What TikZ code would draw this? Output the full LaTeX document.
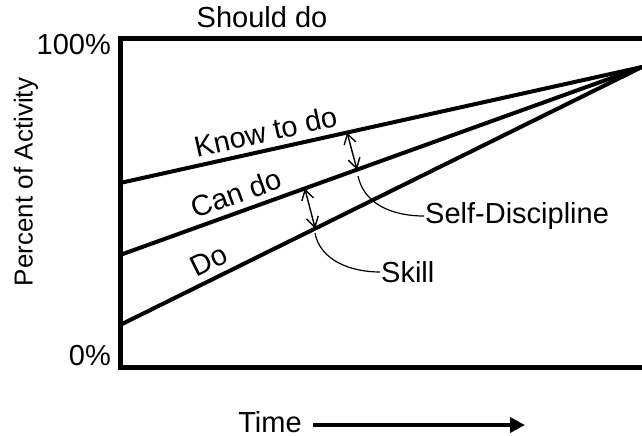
\documentclass[tikz,border=0pt]{standalone}
\usepackage{fontspec}
\setmainfont{Liberation Sans}
\usetikzlibrary{arrows.meta}

\tikzset{
	trend/.style={line width=4pt, black},
	gap/.style={line width=1.4pt, {Straight Barb[length=10pt,width=12pt]}-{Straight Barb[length=10pt,width=12pt]}},
	callout/.style={line width=1.2pt},
	lbl/.style={font=\fontsize{29}{32}\selectfont, inner sep=1pt},
	linelbl/.style={lbl, sloped, anchor=south west, inner xsep=0pt, inner ysep=6pt}
}

\begin{document}
\begin{tikzpicture}[x=1pt,y=-1pt]
\useasboundingbox (0,0) rectangle (642,436);

% frame
\draw[line width=5pt] (642,39) -- (120,39) -- (120,367) -- (642,367);
\coordinate (conv) at (642,67);
\coordinate (knowS) at (120,183);
\coordinate (canS) at (120,255);
\coordinate (doS) at (120,325);

% axis labels
\node[lbl, anchor=east] (top) at (112,45) {100\%};
\node[lbl, anchor=east] (bot) at (112,356) {0\%};
\node[lbl, font=\fontsize{26}{28}\selectfont, rotate=90] (ylab) at (26,182) {Percent of Activity};
\node[lbl] (should) at (262,17) {Should do};

% lines
\draw[trend] (knowS) -- (conv) node[linelbl, pos=0.147] (know) {Know to do};
\draw[trend] (canS) -- (conv) node[linelbl, pos=0.147] (can) {Can do};
\draw[trend] (doS) -- (conv) node[linelbl, pos=0.151] (do) {Do};

% points on the lines
\path (knowS) -- (conv) coordinate[pos=0.435] (sdtop);
\path (canS) -- (conv) coordinate[pos=0.454] (sdbot);
\path (canS) -- (conv) coordinate[pos=0.354] (sktop);
\path (doS) -- (conv) coordinate[pos=0.374] (skbot);

% gaps
\draw[gap] (sdtop) -- (sdbot);
\draw[gap] (sktop) -- (skbot);

% callouts
\node[lbl, anchor=west] (sd) at (424,216) {Self-Discipline};
\node[lbl, anchor=west] (skill) at (380,272) {Skill};
\draw[callout] (358,176) .. controls (364,204) and (392,216) .. (sd.west);
\draw[callout] (315,233) .. controls (320,260) and (350,272) .. (skill.west);

% time axis
\node[lbl] (time) at (270,422) {Time};
\coordinate (tstart) at (313,425);
\coordinate (tend) at (525,425);
\draw[line width=3.5pt, -{Triangle[length=15pt,width=15pt]}] (tstart) -- (tend);

\end{tikzpicture}
\end{document}
